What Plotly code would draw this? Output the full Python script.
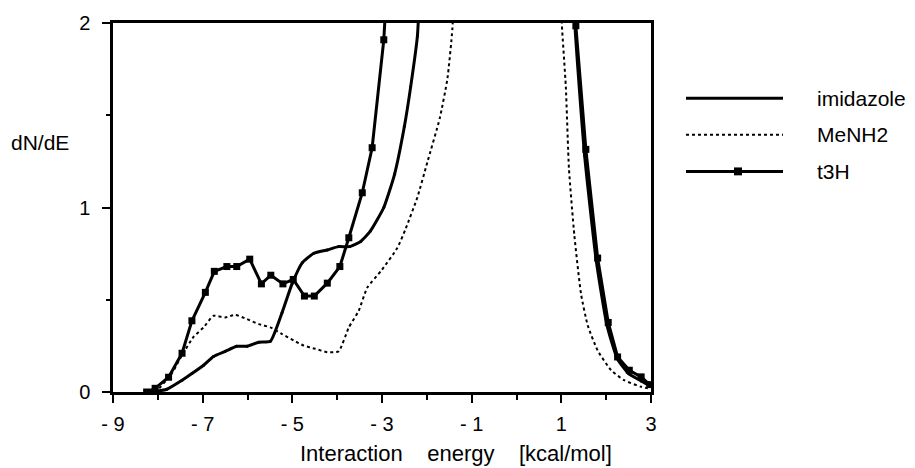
import plotly.graph_objects as go

# ---------------- data ----------------
imid_left_E = [-8.25, -8.0, -7.8, -7.46, -7.24, -6.98, -6.76, -6.5, -6.24, -6.01, -5.75, -5.49,
               -5.23, -5.0, -4.78, -4.52, -4.22, -3.97, -3.72, -3.48, -3.26, -2.96, -2.72,
               -2.50, -2.36, -2.21, -2.1]
imid_left_v = [0.0, 0.005, 0.015, 0.064, 0.10, 0.145, 0.193, 0.22, 0.248, 0.248, 0.27, 0.275,
               0.43, 0.59, 0.70, 0.752, 0.77, 0.788, 0.788, 0.815, 0.872, 1.0, 1.18,
               1.44, 1.655, 1.93, 2.6]
imid_right_E = [1.22, 1.30, 1.52, 1.78, 2.02, 2.25, 2.5, 2.78, 3.0]
imid_right_v = [2.6, 2.0, 1.28, 0.71, 0.36, 0.18, 0.10, 0.06, 0.03]

menh2_left_E = [-8.2, -8.06, -7.69, -7.46, -7.2, -6.98, -6.76, -6.5, -6.27, -6.01, -5.75, -5.49,
                -5.23, -4.97, -4.75, -4.49, -4.22, -3.97, -3.74, -3.52, -3.33, -3.0, -2.66,
                -2.47, -2.21, -1.99, -1.71, -1.54, -1.43, -1.35]
menh2_left_v = [0.0, 0.0, 0.1, 0.2, 0.3, 0.35, 0.413, 0.404, 0.418, 0.395, 0.368, 0.35,
                0.314, 0.279, 0.252, 0.234, 0.216, 0.22, 0.35, 0.44, 0.565, 0.663, 0.78,
                0.886, 1.056, 1.244, 1.485, 1.70, 1.97, 2.5]
menh2_right_E = [0.95, 1.01, 1.10, 1.17, 1.29, 1.44, 1.59, 1.81, 2.11, 2.40, 2.78, 3.0]
menh2_right_v = [2.5, 2.0, 1.655, 1.21, 0.85, 0.53, 0.36, 0.225, 0.118, 0.064, 0.028, 0.016]

t3h_left_E = [-8.25, -8.06, -7.76, -7.46, -7.24, -6.94, -6.74, -6.46, -6.24, -5.95, -5.69, -5.48,
              -5.21, -4.98, -4.73, -4.51, -4.22, -3.94, -3.74, -3.44, -3.22, -2.96, -2.8]
t3h_left_v = [0.0, 0.02, 0.08, 0.21, 0.386, 0.54, 0.654, 0.68, 0.68, 0.72, 0.586, 0.633,
              0.586, 0.61, 0.52, 0.52, 0.59, 0.68, 0.836, 1.08, 1.324, 1.909, 2.6]
t3h_right_E = [1.25, 1.324, 1.547, 1.81, 2.046, 2.255, 2.516, 2.78, 2.97]
t3h_right_v = [2.5, 1.985, 1.315, 0.726, 0.377, 0.19, 0.118, 0.082, 0.04]

x_tickvals = [-9, -7, -5, -3, -1, 1, 3]
x_ticktext = ["- 9", "- 7", "- 5", "- 3", "- 1", "1", "3"]
y_tickvals = [0, 1, 2]
series_names = ["imidazole", "MeNH2", "t3H"]

FONT = "Liberation Sans, Arial, sans-serif"
TEXT_SIZE = 21
TICK_SIZE = 20

# figure geometry (pixels)
W, H = 915, 468
L, R, T, B = 113, 651, 19, 392


def join(a, b):
    return list(a) + [None] + list(b)


fig = go.Figure()
fig.add_trace(go.Scatter(
    x=join(imid_left_E, imid_right_E), y=join(imid_left_v, imid_right_v),
    mode="lines+markers", name=series_names[0],
    line=dict(color="black", width=3, shape="spline", smoothing=0.5),
    marker=dict(size=3, color="black"), connectgaps=False, showlegend=False))
fig.add_trace(go.Scatter(
    x=join(menh2_left_E, menh2_right_E), y=join(menh2_left_v, menh2_right_v),
    mode="lines", name=series_names[1],
    line=dict(color="black", width=2, dash="dot", shape="spline", smoothing=0.5),
    connectgaps=False, showlegend=False))
fig.add_trace(go.Scatter(
    x=join(t3h_left_E, t3h_right_E), y=join(t3h_left_v, t3h_right_v),
    mode="lines+markers", name=series_names[2],
    line=dict(color="black", width=3),
    marker=dict(symbol="square", size=7, color="black"), connectgaps=False, showlegend=False))

axis_common = dict(
    showgrid=False, zeroline=False, showline=True, linecolor="black", linewidth=2.5,
    mirror=True, ticks="outside", tickcolor="black", tickwidth=2,
    tickfont=dict(family=FONT, size=TICK_SIZE, color="black"),
)
fig.update_xaxes(range=[-9, 3], tickvals=x_tickvals, ticktext=x_ticktext, ticklen=8,
                 ticklabelstandoff=4,
                 minor=dict(dtick=1, ticks="outside", ticklen=5, tickcolor="black", tickwidth=2),
                 **axis_common)
fig.update_yaxes(range=[0, 2], tickvals=y_tickvals, ticklen=8, ticklabelstandoff=8,
                 minor=dict(dtick=0.5, ticks="outside", ticklen=4, tickcolor="black", tickwidth=2),
                 **axis_common)


def px2paper(px, py):
    return (px - L) / (R - L), (B - py) / (B - T)


# manual legend
leg_rows = [95, 132, 169]
x0, _ = px2paper(686, 0)
x1, _ = px2paper(783, 0)
for i, (name, py) in enumerate(zip(series_names, leg_rows)):
    _, yy = px2paper(0, py)
    dash = "dot" if i == 1 else "solid"
    width = 2 if i == 1 else 3
    fig.add_shape(type="line", xref="paper", yref="paper", x0=x0, x1=x1, y0=yy, y1=yy,
                  line=dict(color="black", width=width, dash=dash))
    tx, _ = px2paper(815, 0)
    fig.add_annotation(xref="paper", yref="paper", x=tx, y=yy, text=name, showarrow=False,
                       xanchor="left", yanchor="middle",
                       font=dict(family=FONT, size=TEXT_SIZE, color="black"))
    if i == 2:
        mx0, my0 = px2paper(734, py + 4)
        mx1, my1 = px2paper(742, py - 4)
        fig.add_shape(type="rect", xref="paper", yref="paper", x0=mx0, x1=mx1, y0=my0, y1=my1,
                      fillcolor="black", line=dict(color="black", width=0))

# axis titles as annotations
sp = "\u00a0" * 4
ax, ay = px2paper(456, 454)
fig.add_annotation(xref="paper", yref="paper", x=ax, y=ay,
                   text="Interaction" + sp + "energy" + sp + "[kcal/mol]", showarrow=False,
                   xanchor="center", yanchor="middle",
                   font=dict(family=FONT, size=22, color="black"))
yx, yy = px2paper(9, 140)
fig.add_annotation(xref="paper", yref="paper", x=yx, y=yy, text="dN/dE", showarrow=False,
                   xanchor="left", yanchor="middle",
                   font=dict(family=FONT, size=TEXT_SIZE, color="black"))

fig.update_layout(
    width=W, height=H, margin=dict(l=L, r=W - R, t=T, b=H - B),
    paper_bgcolor="white", plot_bgcolor="white", showlegend=False,
)

fig.write_html("out.html")
